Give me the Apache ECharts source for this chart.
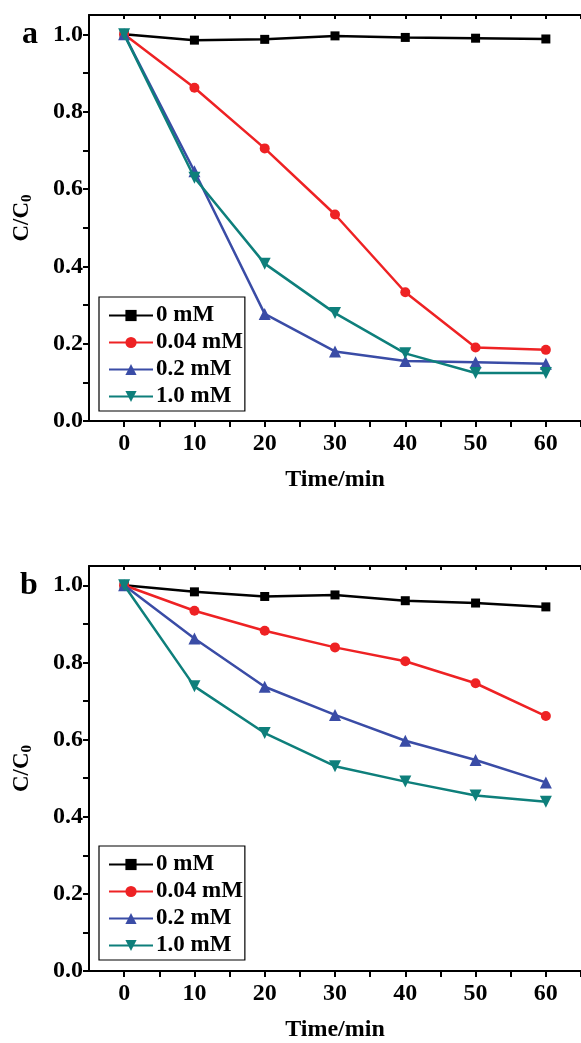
<!DOCTYPE html>
<html>
<head>
<meta charset="utf-8">
<script src="https://cdn.jsdelivr.net/npm/echarts@6/dist/echarts.min.js"></script>
<style>
  html, body { margin: 0; padding: 0; background: #ffffff; }
  #main { width: 581px; height: 1043px; }
</style>
</head>
<body>
<div id="main"></div>
<script>
  // time points (min)
  var times = [0, 10, 20, 30, 40, 50, 60]
  var seriesNames = ['0 mM', '0.04 mM', '0.2 mM', '1.0 mM']

  // panel a
  var a_0mM = [1.0, 0.985, 0.987, 0.996, 0.992, 0.990, 0.988]
  var a_004mM = [1.0, 0.862, 0.705, 0.534, 0.333, 0.190, 0.184]
  var a_02mM = [1.0, 0.646, 0.277, 0.180, 0.155, 0.152, 0.148]
  var a_10mM = [1.0, 0.629, 0.407, 0.279, 0.175, 0.124, 0.124]

  // panel b
  var b_0mM = [1.0, 0.983, 0.971, 0.975, 0.960, 0.954, 0.944]
  var b_004mM = [1.0, 0.934, 0.882, 0.839, 0.803, 0.746, 0.661]
  var b_02mM = [1.0, 0.862, 0.737, 0.664, 0.597, 0.547, 0.489]
  var b_10mM = [1.0, 0.738, 0.617, 0.531, 0.491, 0.455, 0.439]

  // axis ticks
  var xLabels = [0, 10, 20, 30, 40, 50, 60]
  var xTicks = [0, 5, 10, 15, 20, 25, 30, 35, 40, 45, 50, 55, 60, 65]
  var yLabels = [0, 0.2, 0.4, 0.6, 0.8, 1.0]
  var yTicks = [0, 0.1, 0.2, 0.3, 0.4, 0.5, 0.6, 0.7, 0.8, 0.9, 1.0]

  var colors = ['#000000', '#ee2224', '#3a4ca6', '#0e7f7b']
  var symbols = ['rect', 'circle', 'triangle', 'triangle']
  var symbolSizes = [9, 10, 12, 12]
  var symbolRotates = [0, 0, 0, 180]

  var font = '"Liberation Serif", "Times New Roman", serif'
  var axisLineStyle = { color: '#000', width: 2 }

  function pairs (values) {
    return times.map(function (t, i) { return [t, values[i]] })
  }

  function makeSeries (gridIdx, data) {
    return data.map(function (values, i) {
      return {
        name: seriesNames[i],
        type: 'line',
        xAxisIndex: gridIdx * 2,
        yAxisIndex: gridIdx,
        data: pairs(values),
        symbol: symbols[i],
        symbolSize: symbolSizes[i],
        symbolRotate: symbolRotates[i],
        lineStyle: { color: colors[i], width: 2.5 },
        itemStyle: { color: colors[i] },
        z: 2 + i,
        animation: false
      }
    })
  }

  function bottomAxis (gridIdx) {
    return {
      type: 'value',
      gridIndex: gridIdx,
      position: 'bottom',
      min: -5,
      max: 65,
      name: 'Time/min',
      nameLocation: 'middle',
      nameGap: 47,
      nameTextStyle: { fontFamily: font, fontWeight: 'bold', fontSize: 24, color: '#000' },
      axisLine: { onZero: false, lineStyle: axisLineStyle },
      axisTick: { show: true, inside: false, length: 6, customValues: xTicks, lineStyle: axisLineStyle },
      axisLabel: { customValues: xLabels, margin: 11, fontFamily: font, fontWeight: 'bold', fontSize: 24, color: '#000' },
      splitLine: { show: false }
    }
  }

  function topAxis (gridIdx) {
    return {
      type: 'value',
      gridIndex: gridIdx,
      position: 'top',
      min: -5,
      max: 65,
      axisLine: { onZero: false, lineStyle: axisLineStyle },
      axisTick: { show: true, inside: true, length: 4, customValues: xTicks, lineStyle: axisLineStyle },
      axisLabel: { show: false },
      splitLine: { show: false }
    }
  }

  function leftAxis (gridIdx) {
    return {
      type: 'value',
      gridIndex: gridIdx,
      min: 0,
      max: 1.05,
      name: '{a|C/C}{b|0}',
      nameLocation: 'middle',
      nameRotate: 90,
      nameGap: 54,
      nameTextStyle: {
        rich: {
          a: { fontFamily: font, fontWeight: 'bold', fontSize: 23, color: '#000', lineHeight: 26 },
          b: { fontFamily: font, fontWeight: 'bold', fontSize: 15, color: '#000', lineHeight: 26, verticalAlign: 'bottom', padding: [8, 0, 0, 0] }
        }
      },
      axisLine: { show: true, onZero: false, lineStyle: axisLineStyle },
      axisTick: { show: true, inside: false, length: 6, customValues: yTicks, lineStyle: axisLineStyle },
      axisLabel: {
        customValues: yLabels,
        margin: 6,
        fontFamily: font, fontWeight: 'bold', fontSize: 24, color: '#000',
        formatter: function (v) { return v.toFixed(1) }
      },
      splitLine: { show: false }
    }
  }

  function makeLegend (gridIdx, top) {
    return {
      data: seriesNames,
      orient: 'vertical',
      left: 99,
      top: top,
      itemWidth: 44,
      itemHeight: 14,
      itemGap: 4,
      padding: [7, 2, 3, 9],
      borderColor: '#000',
      borderWidth: 1.2,
      selectedMode: false,
      textStyle: { fontFamily: font, fontWeight: 'bold', fontSize: 23, color: '#000', padding: [0, 0, 0, -2] }
    }
  }

  var chart = echarts.init(document.getElementById('main'))

  chart.setOption({
    backgroundColor: '#ffffff',
    animation: false,
    grid: [
      { left: 89, top: 15, height: 406, right: -10 },
      { left: 89, top: 566, height: 405, right: -10 }
    ],
    xAxis: [bottomAxis(0), topAxis(0), bottomAxis(1), topAxis(1)],
    yAxis: [leftAxis(0), leftAxis(1)],
    legend: [makeLegend(0, 297), makeLegend(1, 846)],
    graphic: [
      { type: 'text', left: 22, top: 19, style: { text: 'a', font: 'bold 32px ' + font, fill: '#000' } },
      { type: 'text', left: 20, top: 570, style: { text: 'b', font: 'bold 32px ' + font, fill: '#000' } }
    ],
    series: makeSeries(0, [a_0mM, a_004mM, a_02mM, a_10mM])
      .concat(makeSeries(1, [b_0mM, b_004mM, b_02mM, b_10mM]))
  })
</script>
</body>
</html>
